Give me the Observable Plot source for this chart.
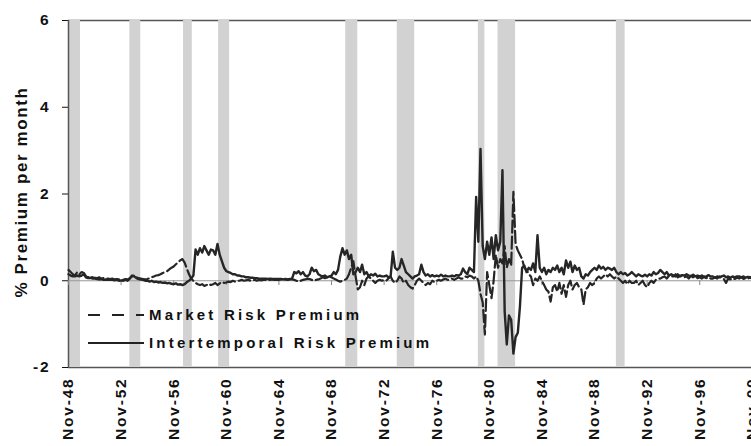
<!DOCTYPE html>
<html>
<head>
<meta charset="utf-8">
<script src="https://cdn.jsdelivr.net/npm/d3@7"></script>
<script src="https://cdn.jsdelivr.net/npm/@observablehq/plot@0.6"></script>
<style>
  body { margin: 0; background: #fff; }
  #wrap { position: relative; width: 751px; height: 446px; overflow: hidden; background: #fff;
          font-family: "Liberation Sans", Arial, sans-serif; color: #111; }
  #chart { position: absolute; left: 0; top: 0; width: 800px; height: 446px; }
  #chart svg { max-width: none !important; display: block; }
  #ytitle { position: absolute; left: 22px; top: 192px; transform: translate(-50%, -50%) rotate(-90deg);
            font-weight: bold; font-size: 17px; letter-spacing: 1.6px; white-space: nowrap; }
  .leg { position: absolute; left: 88px; display: flex; align-items: center; font-weight: bold;
         font-size: 15px; letter-spacing: 3.2px; white-space: nowrap; line-height: 1; }
  .leg svg { margin-right: 5px; }
</style>
</head>
<body>
<div id="wrap">
  <div id="chart"></div>
  <div id="ytitle">% Premium per month</div>
  <div class="leg" style="top:307px"><svg width="56" height="6"><line x1="0" y1="3" x2="56" y2="3" stroke="#222" stroke-width="2" stroke-dasharray="12,12"/></svg>Market Risk Premium</div>
  <div class="leg" style="top:335px"><svg width="56" height="6"><line x1="0" y1="3" x2="56" y2="3" stroke="#222" stroke-width="2"/></svg>Intertemporal Risk Premium</div>
</div>
<script>
// Monthly risk premia, sampled every second month starting November 1948.
const startYear = 1948, startMonth = 10, stepMonths = 2;

// Market risk premium (% per month); each row runs Nov..Sep of one year.
const market = [
  0.25,0.2,0.15,0.12,0.2,0.15,   0.2,0.18,0.1,0.08,0.1,0.08,    0.07,0.06,0.08,0.05,0.06,0.05,
  0.05,0.04,0.05,0.03,0.04,0.03, 0.03,0.02,0.04,0.03,0.06,0.1,  0.12,0.08,0.06,0.05,0.04,0.03,
  0.04,0.06,0.08,0.1,0.12,0.13,  0.15,0.18,0.2,0.22,0.26,0.3,   0.33,0.38,0.42,0.47,0.5,0.42,
  0.28,0.15,0.05,0.0,-0.05,-0.08, -0.1,-0.08,-0.12,-0.1,-0.07,-0.1, -0.08,-0.05,-0.1,-0.06,-0.03,-0.05,
  -0.04,-0.02,-0.03,0.0,-0.02,0.0, 0.0,0.02,0.0,0.01,0.02,0.0,  0.01,0.02,0.0,0.02,0.01,0.02,
  0.02,0.01,0.02,0.03,0.02,0.02, 0.02,0.03,0.02,0.03,0.02,0.03, 0.03,0.02,0.0,-0.02,0.0,0.02,
  0.03,0.05,0.04,0.02,0.0,0.02,  0.03,0.05,0.08,0.06,0.08,0.1,  0.08,0.05,0.03,0.0,-0.02,0.0,
  0.02,0.05,0.15,0.3,0.45,0.1,   -0.2,-0.15,0.0,-0.1,0.05,0.1,  0.05,0.0,-0.05,0.0,0.02,0.0,
  0.02,0.0,0.05,0.1,0.0,-0.05,   0.0,0.1,0.05,-0.05,0.0,-0.1,   -0.15,-0.18,-0.1,0.0,0.05,0.0,
  -0.05,-0.1,-0.05,-0.08,0.0,-0.03, 0.0,0.02,0.0,0.03,0.05,0.02, 0.03,0.05,0.02,0.05,0.08,0.05,
  0.05,0.1,0.08,0.12,0.1,0.05,   0.1,0.0,-0.3,-0.5,-1.24,0.2,   -0.1,-0.4,0.0,0.6,0.3,0.5,
  0.4,0.8,0.3,0.5,0.35,2.05,     0.85,0.7,0.6,0.5,0.3,0.25,     0.15,0.1,-0.1,0.05,0.0,0.1,
  0.0,-0.1,-0.2,-0.25,-0.48,-0.15, -0.1,-0.25,-0.05,-0.3,-0.1,-0.37, -0.1,0.0,-0.2,-0.1,-0.05,-0.15,
  -0.2,-0.55,-0.2,-0.15,-0.05,-0.1, -0.05,0.05,0.1,0.05,0.1,0.15, 0.1,0.15,0.1,0.05,0.1,0.05,
  0.0,-0.05,0.0,-0.08,0.0,-0.05, -0.05,0.0,-0.1,-0.05,0.0,-0.1, -0.15,-0.05,0.0,-0.05,0.02,0.05,
  0.05,0.08,0.1,0.05,0.12,0.1,   0.1,0.15,0.08,0.12,0.1,0.08,   0.1,0.05,0.12,0.08,0.1,0.06,
  0.08,0.05,0.1,0.06,0.08,0.05,  0.05,0.08,0.05,0.1,0.06,0.04,  -0.05,0.05,0.03,0.06,0.04,0.07,
  0.05,0.08,0.04,0.06,0.05,0.07,
  0.05
];

// Intertemporal risk premium (% per month), same sampling.
const intertemporal = [
  0.15,0.12,0.1,0.1,0.12,0.1,    0.12,0.15,0.08,0.06,0.07,0.05, 0.05,0.04,0.03,0.04,0.02,0.03,
  0.02,0.03,0.02,0.01,0.02,0.0,  0.01,0.0,0.02,0.0,0.05,0.12,   0.1,0.06,0.04,0.03,0.02,0.0,
  0.0,-0.02,0.0,-0.03,-0.02,-0.04, -0.03,-0.05,-0.04,-0.06,-0.05,-0.07, -0.08,-0.06,-0.09,-0.08,-0.1,-0.08,
  -0.03,0.0,0.05,0.12,0.72,0.6,  0.75,0.65,0.8,0.7,0.6,0.72,    0.7,0.6,0.85,0.6,0.45,0.3,
  0.22,0.2,0.18,0.15,0.15,0.12,  0.12,0.1,0.1,0.08,0.08,0.07,   0.07,0.06,0.06,0.05,0.05,0.05,
  0.05,0.04,0.05,0.04,0.04,0.04, 0.04,0.04,0.03,0.04,0.03,0.04, 0.05,0.2,0.17,0.22,0.15,0.2,
  0.12,0.1,0.15,0.3,0.22,0.25,   0.15,0.12,0.1,0.12,0.08,0.1,   0.12,0.2,0.15,0.25,0.55,0.75,
  0.6,0.7,0.5,0.6,0.15,0.2,      0.3,0.2,0.37,0.15,0.2,0.1,     0.15,0.12,0.16,0.1,0.12,0.1,
  0.1,0.12,0.08,0.1,0.67,0.3,    0.25,0.3,0.5,0.35,0.2,0.15,    0.1,0.05,0.1,0.12,0.15,0.37,
  0.2,0.12,0.15,0.1,0.13,0.1,    0.12,0.1,0.14,0.1,0.12,0.1,    0.1,0.12,0.1,0.13,0.12,0.15,
  0.28,0.2,0.15,0.3,0.25,0.2,    1.93,0.9,3.04,0.8,0.5,0.9,     0.6,1.0,0.5,1.05,0.7,0.9,
  2.55,-0.7,-1.47,-0.8,-0.9,-1.68, -1.3,-1.2,-0.6,0.3,0.35,0.2, 0.3,0.25,0.4,0.2,1.05,0.3,
  0.2,0.3,0.15,0.25,0.2,0.3,     0.25,0.35,0.2,0.3,0.15,0.47,   0.3,0.44,0.2,0.35,0.25,0.3,
  0.1,0.05,0.15,0.12,0.2,0.25,   0.3,0.25,0.35,0.28,0.32,0.25,  0.3,0.28,0.25,0.3,0.2,0.15,
  0.2,0.15,0.18,0.12,0.15,0.2,   0.15,0.1,0.15,0.12,0.1,0.14,   0.1,0.15,0.12,0.2,0.15,0.18,
  0.25,0.2,0.15,0.2,0.12,0.15,   0.12,0.1,0.15,0.1,0.13,0.12,   0.15,0.12,0.1,0.14,0.1,0.12,
  0.1,0.12,0.08,0.1,0.13,0.1,    0.1,0.07,0.1,0.08,0.1,0.12,    0.08,0.1,0.07,0.1,0.08,0.1,
  0.1,0.08,0.1,0.07,0.09,0.08,
  0.07
];

// NBER recessions (peak month, trough month).
const recessions = [
  ["1948-11", "1949-10"], ["1953-07", "1954-05"], ["1957-08", "1958-04"],
  ["1960-04", "1961-02"], ["1969-12", "1970-11"], ["1973-11", "1975-03"],
  ["1980-01", "1980-07"], ["1981-07", "1982-11"], ["1990-07", "1991-03"]
];

// Category labels every four years, each in November.
const tickYears = [1948, 1952, 1956, 1960, 1964, 1968, 1972, 1976, 1980, 1984, 1988, 1992, 1996, 2000];
const yTicks = [-2, 0, 2, 4, 6];

const monthDate = (i) => new Date(Date.UTC(startYear, startMonth + i * stepMonths, 1));
const parseYM = (s) => { const [y, m] = s.split("-").map(Number); return new Date(Date.UTC(y, m - 1, 1)); };

const marketRows = market.map((v, i) => ({date: monthDate(i), value: v}));
const interRows = intertemporal.map((v, i) => ({date: monthDate(i), value: v}));
const bands = recessions.map(([a, b]) => ({start: parseYM(a), end: parseYM(b)}));
const tickDates = tickYears.map((y) => new Date(Date.UTC(y, 10, 1)));
const xStart = new Date(Date.UTC(1948, 10, 1));
const xEnd = new Date(Date.UTC(2004, 6, 1));

const chart = Plot.plot({
  width: 800,
  height: 446,
  marginLeft: 68,
  marginRight: 0,
  marginTop: 20,
  marginBottom: 79,
  style: {fontFamily: '"Liberation Sans", Arial, sans-serif', fontSize: "15.5px", fontWeight: "bold",
          letterSpacing: "1.8px", color: "#111", background: "#fff", maxWidth: "none"},
  x: {
    type: "utc",
    domain: [xStart, xEnd],
    ticks: tickDates,
    tickFormat: (d) => "Nov-" + String(d.getUTCFullYear() % 100).padStart(2, "0"),
    tickRotate: -90,
    tickSize: 0,
    tickPadding: 10,
    label: null
  },
  y: {
    domain: [-2, 6],
    ticks: yTicks,
    tickFormat: (d) => String(d),
    tickSize: 6,
    tickPadding: 12,
    label: null
  },
  marks: [
    Plot.ruleY([6, -2], {stroke: "#555", strokeWidth: 1.5}),
    Plot.rect(bands, {x1: "start", x2: "end", fill: "#d2d2d2"}),
    Plot.ruleX([xStart], {stroke: "#555", strokeWidth: 1.5}),
    Plot.ruleY([0], {stroke: "#999", strokeWidth: 1.2}),
    Plot.ruleX(tickDates, {y1: 0, y2: -0.11, stroke: "#888", strokeWidth: 1}),
    Plot.line(interRows, {x: "date", y: "value", stroke: "#262626", strokeWidth: 2.4}),
    Plot.line(marketRows, {x: "date", y: "value", stroke: "#262626", strokeWidth: 2.2, strokeDasharray: "12,4"})
  ]
});
document.getElementById("chart").appendChild(chart);
</script>
</body>
</html>
